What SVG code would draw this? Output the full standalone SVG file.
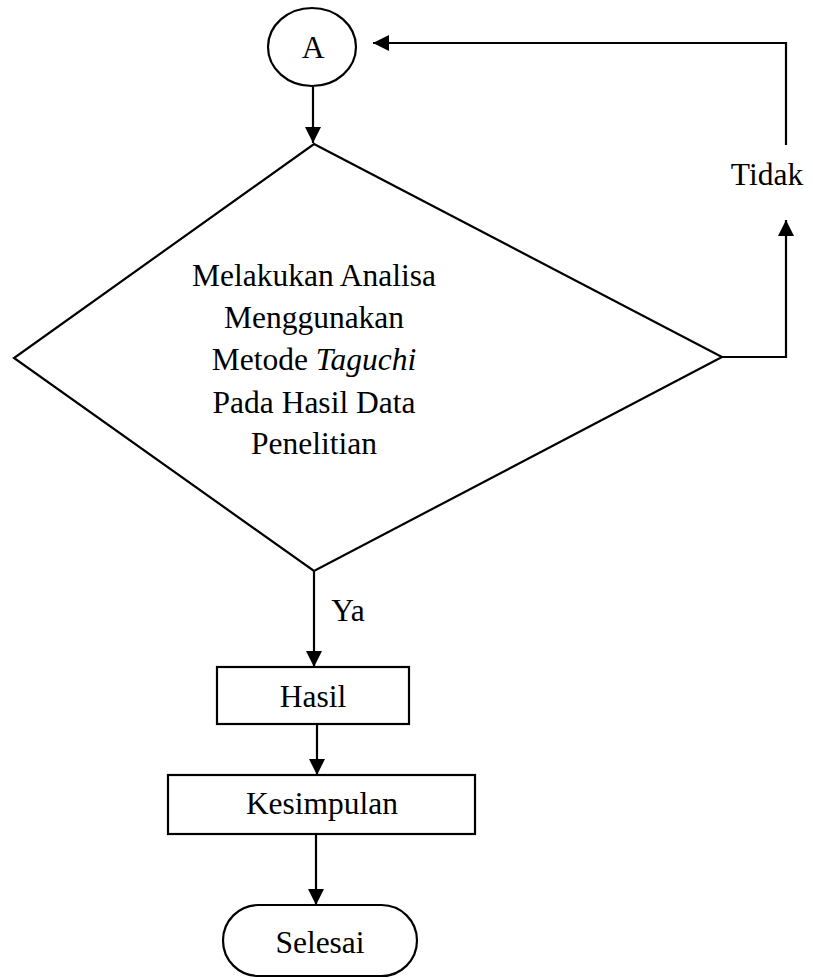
<svg xmlns="http://www.w3.org/2000/svg" width="813" height="978" viewBox="0 0 813 978">
<style>
.s{fill:#fff;stroke:#000;stroke-width:2.2}
.c{fill:none;stroke:#000;stroke-width:2.2}
.t{font-family:"Liberation Serif","Times New Roman",serif;font-size:31.5px;fill:#000;text-anchor:middle}
</style>
<defs>
<marker id="ah" markerUnits="userSpaceOnUse" markerWidth="16" markerHeight="16" refX="16" refY="8" orient="auto">
<path d="M0,0 L16,8 L0,16 z" fill="#000"/>
</marker>
</defs>
<rect width="813" height="978" fill="#fff"/>
<g id="connectors">
<line class="c" x1="313" y1="87" x2="313" y2="143" marker-end="url(#ah)"/>
<polyline class="c" points="722,357 786,357 786,220" marker-end="url(#ah)"/>
<polyline class="c" points="786,145 786,43 373,43" marker-end="url(#ah)"/>
<line class="c" x1="314" y1="571" x2="314" y2="667" marker-end="url(#ah)"/>
<line class="c" x1="317" y1="724" x2="317" y2="775" marker-end="url(#ah)"/>
<line class="c" x1="316" y1="834" x2="316" y2="905" marker-end="url(#ah)"/>
<text class="t" x="348" y="621">Ya</text>
<text class="t" x="767" y="185">Tidak</text>
</g>
<g id="nodeA">
<ellipse class="s" cx="312" cy="47" rx="44" ry="39"/>
<text class="t" x="313" y="58">A</text>
</g>
<g id="decision">
<polygon class="s" points="314,144 722,357 314,571 14,358"/>
<text class="t" x="314" y="286">Melakukan Analisa</text>
<text class="t" x="314" y="328">Menggunakan</text>
<text class="t" x="314" y="370">Metode <tspan font-style="italic">Taguchi</tspan></text>
<text class="t" x="314" y="413">Pada Hasil Data</text>
<text class="t" x="314" y="454">Penelitian</text>
</g>
<g id="hasil">
<rect class="s" x="217" y="667" width="192" height="57"/>
<text class="t" x="313" y="707">Hasil</text>
</g>
<g id="kesimpulan">
<rect class="s" x="168" y="775" width="307" height="59"/>
<text class="t" x="322" y="814">Kesimpulan</text>
</g>
<g id="selesai">
<rect class="s" x="223" y="905" width="194" height="71" rx="35.5" ry="35.5"/>
<text class="t" x="320" y="953">Selesai</text>
</g>
</svg>
